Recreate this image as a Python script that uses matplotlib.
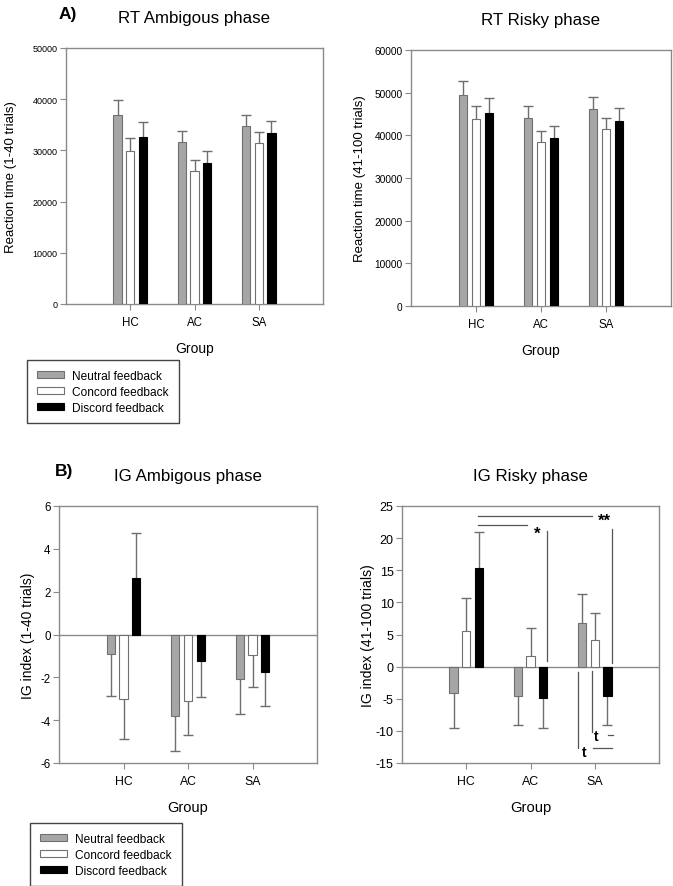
import numpy as np
import matplotlib
matplotlib.use("Agg")
import matplotlib.pyplot as plt
from matplotlib.patches import Patch

plt.rcParams["font.family"] = ["Liberation Sans", "DejaVu Sans"]
plt.rcParams["axes.unicode_minus"] = False

GRUPOS = ["HC", "AC", "SA"]
SERIES = ["Neutral feedback", "Concord feedback", "Discord feedback"]

# RT fase ambigua (1-40 ensayos): media y error (una cola)
rt_amb_media = [[37000, 31600, 34700],
                [29900, 26000, 31400],
                [32700, 27600, 33400]]
rt_amb_err = [[2800, 2200, 2200],
              [2500, 2100, 2100],
              [2800, 2300, 2300]]

# RT fase de riesgo (41-100 ensayos)
rt_risk_media = [[49400, 44000, 46100],
                 [43800, 38400, 41500],
                 [45300, 39400, 43400]]
rt_risk_err = [[3400, 2800, 2800],
               [3100, 2700, 2500],
               [3500, 2800, 2900]]

# IG fase ambigua
ig_amb_media = [[-0.92, -3.80, -2.07],
                [-3.00, -3.12, -0.96],
                [2.66, -1.25, -1.73]]
ig_amb_err = [[1.95, 1.65, 1.64],
              [1.88, 1.57, 1.50],
              [2.06, 1.66, 1.62]]

# IG fase de riesgo
ig_risk_media = [[-4.16, -4.52, 6.86],
                 [5.51, 1.61, 4.16],
                 [15.38, -4.94, -4.57]]
ig_risk_err = [[5.40, 4.52, 4.42],
               [5.14, 4.37, 4.16],
               [5.57, 4.68, 4.47]]

COLORES = ["#a6a6a6", "#ffffff", "#000000"]
GRIS = "#8a8a8a"
GRIS_ERR = "#6e6e6e"
OFFSET = 0.197
ANCHO = 0.13

fig = plt.figure(figsize=(6.73, 8.87), dpi=100)
W, H = 673, 887


def ejes(x0, y0, x1, y1):
    return fig.add_axes([x0 / W, 1 - y1 / H, (x1 - x0) / W, (y1 - y0) / H])


def barras(ax, medias, errs, ylim, yticks, tick_fs, lab_fs, ylabel, lpad, titulo, cero):
    pos = np.arange(1, len(GRUPOS) + 1)
    for i in range(3):
        m = np.array(medias[i], dtype=float)
        e = np.array(errs[i], dtype=float)
        x = pos + (i - 1) * OFFSET
        ax.bar(x, m, width=ANCHO, color=COLORES[i],
               edgecolor="#000000" if i == 2 else "#707070", linewidth=0.8, zorder=3)
        punta = np.where(m >= 0, m + e, m - e)
        ax.vlines(x, m, punta, color=GRIS_ERR, linewidth=1, zorder=2)
        ax.plot(x, punta, ls="none", marker="_", ms=7, mew=1, color=GRIS_ERR, zorder=2)
    if cero:
        ax.axhline(0, color=GRIS, linewidth=1, zorder=1)
    ax.set_xlim(0, 4)
    ax.set_ylim(*ylim)
    ax.set_yticks(yticks)
    ax.set_xticks(pos)
    ax.set_xticklabels(GRUPOS, fontsize=lab_fs - 1.7)
    ax.tick_params(axis="y", labelsize=tick_fs, length=4, color=GRIS, pad=2)
    ax.tick_params(axis="x", length=4, color=GRIS, pad=5)
    for s in ax.spines.values():
        s.set_color(GRIS)
        s.set_linewidth(1)
    ax.set_ylabel(ylabel, fontsize=lab_fs - 0.5, labelpad=lpad)
    ax.set_xlabel("Group", fontsize=lab_fs, labelpad=9)
    ax.set_title(titulo, fontsize=12.2, pad=19)


ax1 = ejes(66, 49, 323, 305)
barras(ax1, rt_amb_media, rt_amb_err, (0, 50000), range(0, 50001, 10000),
       6.5, 10, "Reaction time (1-40 trials)", 11, "RT Ambigous phase", False)

ax2 = ejes(411, 51, 671, 307)
barras(ax2, rt_risk_media, rt_risk_err, (0, 60000), range(0, 60001, 10000),
       7.3, 10, "Reaction time (41-100 trials)", 6, "RT Risky phase", False)

ax3 = ejes(59, 507, 317, 764)
barras(ax3, ig_amb_media, ig_amb_err, (-6, 6), range(-6, 7, 2),
       8.3, 10.5, "IG index (1-40 trials)", 4, "IG Ambigous phase", True)

ax4 = ejes(402, 507, 659, 764)
barras(ax4, ig_risk_media, ig_risk_err, (-15, 25), range(-15, 26, 5),
       9, 10.6, "IG index (41-100 trials)", 0.5, "IG Risky phase", True)

# marcas de significancia en IG Risky
hc_d = 1 + OFFSET
sa_n = 3 - OFFSET
sa_d = 3 + OFFSET
kw = dict(color="#555555", linewidth=0.9)
ax4.plot([hc_d - 0.02, 1.953], [22.0, 22.0], **kw)
ax4.plot([2 + OFFSET + 0.06] * 2, [21.1, 0.9], **kw)
ax4.text(2.10, 22.0, "*", fontsize=12, fontweight="bold", ha="center", va="top")
ax4.plot([hc_d - 0.02, 2.964], [23.4, 23.4], **kw)
ax4.plot([sa_d + 0.07] * 2, [21.4, 0.6], **kw)
ax4.text(3.146, 23.9, "**", fontsize=12, fontweight="bold", ha="center", va="top")
ax4.plot([sa_n - 0.07] * 2, [-0.9, -12.7], **kw)
ax4.plot([2.97, sa_d + 0.07], [-12.7, -12.7], **kw)
ax4.text(2.83, -13.3, "t", fontsize=10, fontweight="bold", ha="center", va="center")
ax4.plot([3 - 0.045] * 2, [-0.7, -10.2], **kw)
ax4.plot([3.20, 3.29], [-10.7, -10.7], **kw)
ax4.text(3.03, -10.85, "t", fontsize=10, fontweight="bold", ha="center", va="center")

fig.text(59 / W, 1 - 15 / H, "A)", fontsize=12.5, fontweight="bold", va="center")
fig.text(55 / W, 1 - 472 / H, "B)", fontsize=12.5, fontweight="bold", va="center")

handles = [Patch(facecolor=c, edgecolor="#000000" if c == "#000000" else "#707070",
                 linewidth=0.8) for c in COLORES]
for (lx, ly) in [(27, 361), (30, 824)]:
    leg = fig.legend(handles, SERIES, loc="upper left",
                     bbox_to_anchor=(lx / W, 1 - ly / H), borderaxespad=0,
                     fontsize=8.6, handlelength=2.3, handleheight=0.55,
                     labelspacing=0.34, handletextpad=0.7, borderpad=0.8,
                     fancybox=False, framealpha=1)
    leg.get_frame().set_edgecolor("#444444")
    leg.get_frame().set_linewidth(1)

fig.savefig("out.png", dpi=100)
